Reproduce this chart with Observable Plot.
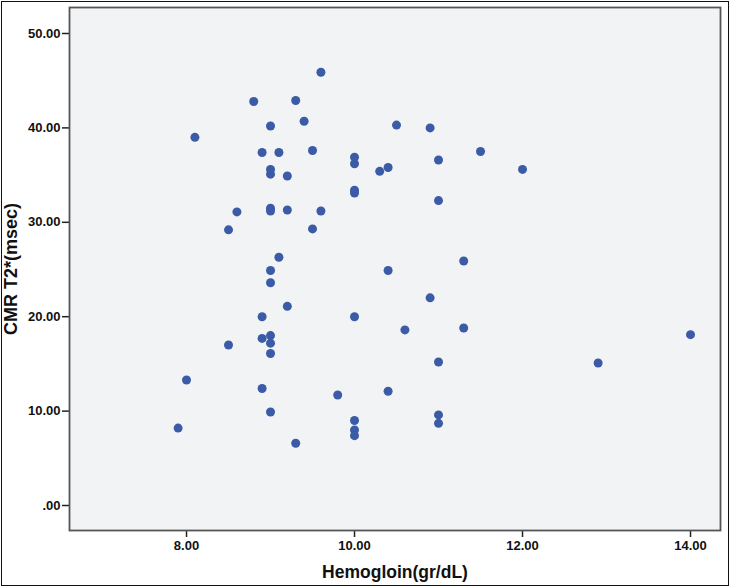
<!DOCTYPE html>
<html>
<head>
<meta charset="utf-8">
<script src="https://cdn.jsdelivr.net/npm/d3@7"></script>
<script src="https://cdn.jsdelivr.net/npm/@observablehq/plot@0.6"></script>
<style>
  html, body { margin: 0; padding: 0; background: #fff; }
  #wrap { position: relative; width: 730px; height: 587px; overflow: hidden; }
  #border { position: absolute; left: 1px; top: 1px; width: 726px; height: 583px; border: 1.5px solid #111; pointer-events: none; }
  #wrap svg { font-family: "Liberation Sans", Arial, sans-serif; font-weight: bold; }
  g[aria-label="y-axis label"] text { font-size: 18px; }
  g[aria-label="x-axis label"] text { font-size: 17.5px; }
</style>
</head>
<body>
<div id="wrap"><div id="border"></div></div>
<script>
const hemoglobin = [7.9, 8.0, 8.1, 8.5, 8.5, 8.6, 8.8, 8.9, 8.9, 8.9, 8.9, 9.0, 9.0, 9.0, 9.0, 9.0, 9.0, 9.0, 9.0, 9.0, 9.0, 9.0, 9.1, 9.1, 9.2, 9.2, 9.2, 9.3, 9.3, 9.4, 9.5, 9.5, 9.6, 9.6, 9.8, 10.0, 10.0, 10.0, 10.0, 10.0, 10.0, 10.0, 10.0, 10.3, 10.4, 10.4, 10.4, 10.5, 10.6, 10.9, 10.9, 11.0, 11.0, 11.0, 11.0, 11.0, 11.3, 11.3, 11.5, 12.0, 12.9, 14.0];
const t2star = [8.2, 13.3, 39.0, 17.0, 29.2, 31.1, 42.8, 37.4, 20.0, 17.7, 12.4, 40.2, 35.6, 35.1, 31.5, 31.2, 24.9, 23.6, 18.0, 17.2, 16.1, 9.9, 37.4, 26.3, 34.9, 31.3, 21.1, 42.9, 6.6, 40.7, 37.6, 29.3, 45.9, 31.2, 11.7, 36.9, 36.2, 33.4, 33.1, 20.0, 9.0, 8.0, 7.4, 35.4, 35.8, 24.9, 12.1, 40.3, 18.6, 40.0, 22.0, 36.6, 32.3, 15.2, 9.6, 8.7, 25.9, 18.8, 37.5, 35.6, 15.1, 18.1];
const xTicks = [8, 10, 12, 14];
const yTicks = [0, 10, 20, 30, 40, 50];

const data = hemoglobin.map((h, i) => ({h, t: t2star[i]}));
const fmt = d => d === 0 ? ".00" : d.toFixed(2);

const chart = Plot.plot({
  width: 730,
  height: 587,
  marginLeft: 69,
  marginRight: 10,
  marginTop: 7,
  marginBottom: 57,
  style: {background: "transparent", fontSize: "13px", color: "#111"},
  x: {domain: [6.607, 14.357], ticks: xTicks, tickFormat: fmt},
  y: {domain: [-2.648, 52.754], ticks: yTicks, tickFormat: fmt},
  marks: [
    Plot.frame({fill: "#f2f3f5", stroke: "none"}),
    Plot.axisX({ticks: xTicks, tickFormat: fmt, tickSize: 7, tickPadding: 3, label: "Hemogloin(gr/dL)", labelAnchor: "center", labelArrow: "none", labelOffset: 47, stroke: "#222", strokeWidth: 1.5, fill: "#111"}),
    Plot.axisY({ticks: yTicks, tickFormat: fmt, tickSize: 7, tickPadding: 2, label: "CMR T2*(msec)", labelAnchor: "center", labelArrow: "none", labelOffset: 65, stroke: "#222", strokeWidth: 1.5, fill: "#111"}),
    Plot.dot(data, {x: "h", y: "t", r: 4.5, fill: "#3b5ba6", stroke: "none"}),
    Plot.frame({stroke: "#555", strokeWidth: 1.8})
  ]
});
document.getElementById("wrap").prepend(chart);
</script>
</body>
</html>
